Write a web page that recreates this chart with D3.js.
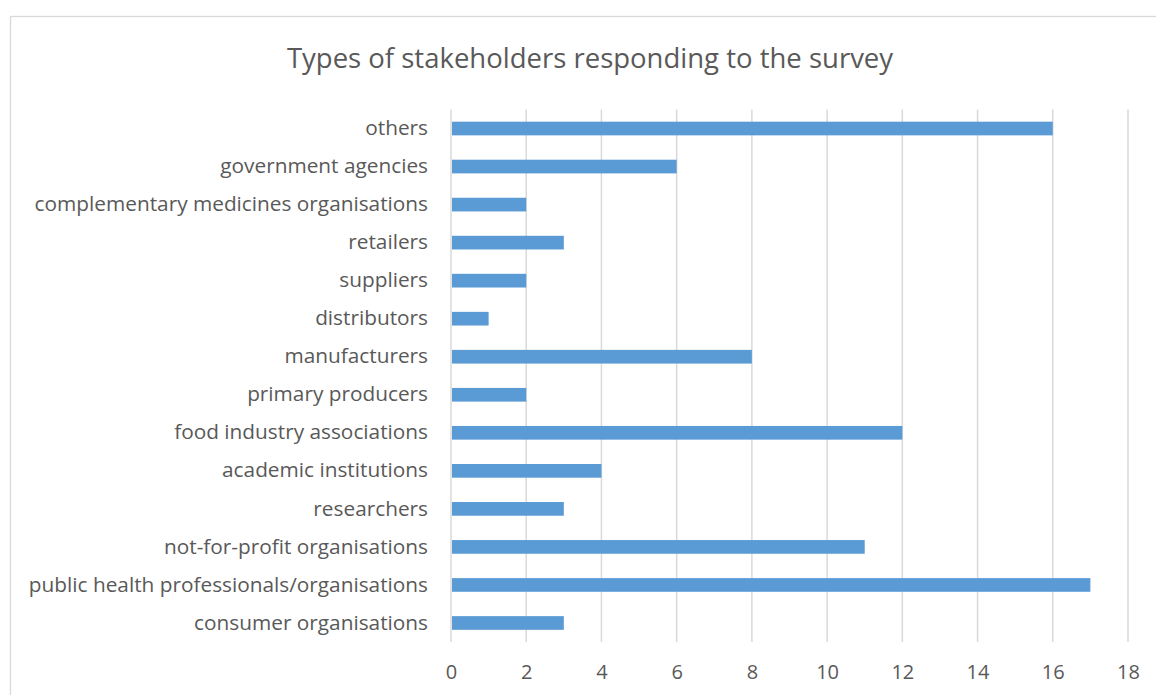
<!DOCTYPE html>
<html>
<head>
<meta charset="utf-8">
<script src="https://cdn.jsdelivr.net/npm/d3@7"></script>
<style>
  body { margin: 0; background: #fff; }
  text { font-family: "Open Sans", sans-serif; fill: #595959; }
</style>
</head>
<body>
<div id="chart"></div>
<script>
// categories top to bottom, as in the picture
let categories = [
    "others",
    "government agencies",
    "complementary medicines organisations",
    "retailers",
    "suppliers",
    "distributors",
    "manufacturers",
    "primary producers",
    "food industry associations",
    "academic institutions",
    "researchers",
    "not-for-profit organisations",
    "public health professionals/organisations",
    "consumer organisations"
];
let counts = [16, 6, 2, 3, 2, 1, 8, 2, 12, 4, 3, 11, 17, 3];
let xTicks = [0, 2, 4, 6, 8, 10, 12, 14, 16, 18];

let svgWidth = 1156;
let svgHeight = 695;

let margin = { top: 109.5, left: 451, right: 28, bottom: 53 };
let width = svgWidth - margin.left - margin.right;
let height = svgHeight - margin.top - margin.bottom;

let svg = d3.select("#chart")
    .append("svg")
    .attr("width", svgWidth)
    .attr("height", svgHeight);

// outer chart border (runs off the right and bottom)
svg.append("rect")
    .attr("x", 10.5)
    .attr("y", 16.5)
    .attr("width", 1160)
    .attr("height", 700)
    .attr("fill", "none")
    .attr("stroke", "#d9d9d9")
    .attr("stroke-width", 1.3);

svg.append("text")
    .attr("x", 590)
    .attr("y", 68)
    .attr("text-anchor", "middle")
    .attr("font-size", "27.5px")
    .text("Types of stakeholders responding to the survey");

let chartGroup = svg.append("g")
    .attr("transform", `translate(${margin.left},${margin.top})`);

let xScale = d3.scaleLinear().domain([0, 18]).range([0, width]);
let yScale = d3.scaleBand().domain(categories).range([0, height]).paddingInner(0.64).paddingOuter(0.32);

// gridlines
chartGroup.selectAll(".grid")
    .data(xTicks)
    .enter()
    .append("line")
    .attr("x1", d => xScale(d))
    .attr("x2", d => xScale(d))
    .attr("y1", 0)
    .attr("y2", height)
    .attr("stroke", "#d9d9d9")
    .attr("stroke-width", 1.5);

// bars
chartGroup.selectAll(".bar")
    .data(categories)
    .enter()
    .append("rect")
    .attr("x", xScale(0) + 1)
    .attr("y", d => yScale(d))
    .attr("width", (d, i) => xScale(counts[i]) - xScale(0) - 1)
    .attr("height", yScale.bandwidth())
    .attr("fill", "#5b9bd5");

// x axis
let bottomAxis = d3.axisBottom(xScale).tickValues(xTicks).tickSize(0).tickPadding(23);
let xAxis = chartGroup.append("g")
    .attr("transform", `translate(0, ${height})`)
    .call(bottomAxis);
xAxis.select(".domain").remove();
xAxis.selectAll("text")
    .attr("font-family", "'Open Sans', sans-serif")
    .attr("font-size", "20px")
    .attr("fill", "#595959");

// y axis labels
let leftAxis = d3.axisLeft(yScale).tickSize(0).tickPadding(23);
let yAxis = chartGroup.append("g").call(leftAxis);
yAxis.select(".domain").remove();
yAxis.selectAll("text")
    .attr("font-family", "'Open Sans', sans-serif")
    .attr("font-size", "20.8px")
    .attr("fill", "#595959");
</script>
</body>
</html>
